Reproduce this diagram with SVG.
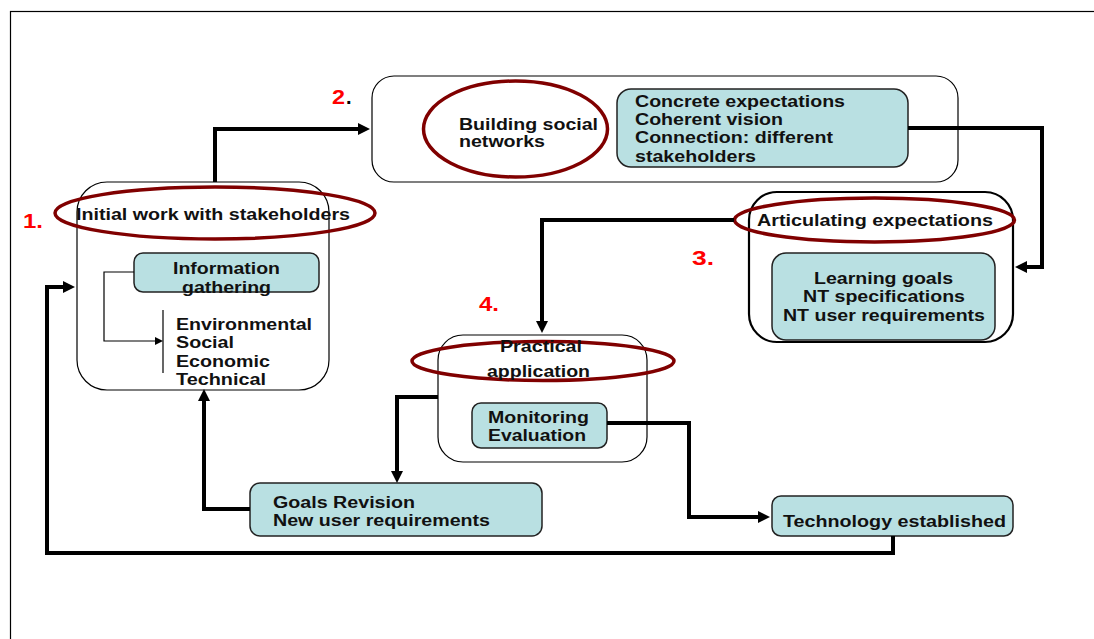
<svg xmlns="http://www.w3.org/2000/svg" width="1094" height="639" viewBox="0 0 1094 639">
<style>
.t{font-family:"Liberation Sans",Arial,sans-serif;font-weight:bold;font-size:16px;fill:#111}
.n{font-family:"Liberation Sans",Arial,sans-serif;font-weight:bold;font-size:20px;fill:#ff0000}
.box{fill:#fff;stroke:#000;stroke-width:1.2}
.box3{fill:#fff;stroke:#000;stroke-width:2.2}
.teal{fill:#b9e0e2;stroke:#222;stroke-width:1.5}
.ell{fill:none;stroke:#800000;stroke-width:3.5}
.con{fill:none;stroke:#000;stroke-width:4;stroke-linejoin:miter}
.thin{fill:none;stroke:#000;stroke-width:1.2}
</style>
<defs>
<marker id="arrow" markerUnits="userSpaceOnUse" viewBox="0 0 12 12" refX="4" refY="6" markerWidth="12" markerHeight="12" orient="auto">
<path d="M0,0 L12,6 L0,12 z" fill="#000"/>
</marker>
<marker id="arrowS" markerUnits="userSpaceOnUse" viewBox="0 0 8 8" refX="0" refY="4" markerWidth="8" markerHeight="8" orient="auto">
<path d="M0,0 L8,4 L0,8 z" fill="#000"/>
</marker>
</defs>
<rect width="1094" height="639" fill="#fff"/>
<rect x="10.5" y="11.5" width="1100" height="700" fill="none" stroke="#000" stroke-width="1.2"/>

<g id="node1">
<rect class="box" x="77" y="182" width="252" height="208" rx="30"/>
<ellipse class="ell" cx="215" cy="213" rx="160" ry="26"/>
<text class="t" x="76" y="220" textLength="274" lengthAdjust="spacingAndGlyphs">Initial work with stakeholders</text>
<text class="n" x="23" y="228" textLength="20" lengthAdjust="spacingAndGlyphs">1.</text>
</g>

<g id="info-gathering">
<rect class="teal" x="134" y="253" width="185" height="39" rx="9"/>
<text class="t" x="173" y="274" textLength="107" lengthAdjust="spacingAndGlyphs">Information</text>
<text class="t" x="182" y="293" textLength="89" lengthAdjust="spacingAndGlyphs">gathering</text>
<path class="thin" d="M134,272 H104 V341 H155" marker-end="url(#arrowS)"/>
</g>

<g id="aspects">
<line class="thin" x1="163" y1="310" x2="163" y2="373"/>
<text class="t" x="176" y="330" textLength="136" lengthAdjust="spacingAndGlyphs">Environmental</text>
<text class="t" x="176" y="348" textLength="58" lengthAdjust="spacingAndGlyphs">Social</text>
<text class="t" x="176" y="367" textLength="94" lengthAdjust="spacingAndGlyphs">Economic</text>
<text class="t" x="176" y="385" textLength="90" lengthAdjust="spacingAndGlyphs">Technical</text>
</g>

<g id="node2">
<rect class="box" x="372" y="76" width="586" height="106" rx="22"/>
<ellipse class="ell" cx="515.5" cy="129" rx="92" ry="48"/>
<text class="t" x="459" y="130" textLength="139" lengthAdjust="spacingAndGlyphs">Building social</text>
<text class="t" x="459" y="147" textLength="86" lengthAdjust="spacingAndGlyphs">networks</text>
<text class="n" x="332" y="104" textLength="13" lengthAdjust="spacingAndGlyphs">2</text>
<text class="n" x="346" y="104" style="fill:#000">.</text>
</g>

<g id="concrete">
<rect class="teal" x="617" y="89" width="291" height="78" rx="14"/>
<text class="t" x="635" y="107" textLength="210" lengthAdjust="spacingAndGlyphs">Concrete expectations</text>
<text class="t" x="635" y="125" textLength="148" lengthAdjust="spacingAndGlyphs">Coherent vision</text>
<text class="t" x="635" y="143" textLength="198" lengthAdjust="spacingAndGlyphs">Connection: different</text>
<text class="t" x="635" y="162" textLength="121" lengthAdjust="spacingAndGlyphs">stakeholders</text>
</g>

<g id="node3">
<rect class="box3" x="749" y="192" width="264" height="150" rx="28"/>
<ellipse class="ell" cx="874.5" cy="220" rx="140" ry="22"/>
<text class="t" x="757" y="226" textLength="236" lengthAdjust="spacingAndGlyphs">Articulating expectations</text>
<text class="n" x="692" y="265" textLength="22" lengthAdjust="spacingAndGlyphs">3.</text>
</g>

<g id="learning">
<rect class="teal" x="772" y="253" width="223" height="87" rx="14"/>
<text class="t" x="814" y="284" textLength="139" lengthAdjust="spacingAndGlyphs">Learning goals</text>
<text class="t" x="803" y="302" textLength="162" lengthAdjust="spacingAndGlyphs">NT specifications</text>
<text class="t" x="783" y="321" textLength="202" lengthAdjust="spacingAndGlyphs">NT user requirements</text>
</g>

<g id="node4">
<rect class="box" x="438" y="335" width="209" height="127" rx="25"/>
<ellipse class="ell" cx="543" cy="361" rx="131" ry="19.5"/>
<text class="t" x="500" y="352" textLength="82" lengthAdjust="spacingAndGlyphs">Practical</text>
<text class="t" x="487" y="377" textLength="103" lengthAdjust="spacingAndGlyphs">application</text>
<text class="n" x="479" y="311" textLength="20" lengthAdjust="spacingAndGlyphs">4.</text>
</g>

<g id="monitoring">
<rect class="teal" x="472" y="403" width="135" height="45" rx="9"/>
<text class="t" x="488" y="423" textLength="101" lengthAdjust="spacingAndGlyphs">Monitoring</text>
<text class="t" x="488" y="441" textLength="98" lengthAdjust="spacingAndGlyphs">Evaluation</text>
</g>

<g id="goals">
<rect class="teal" x="250" y="483" width="292" height="53" rx="10"/>
<text class="t" x="273" y="508" textLength="142" lengthAdjust="spacingAndGlyphs">Goals Revision</text>
<text class="t" x="273" y="526" textLength="217" lengthAdjust="spacingAndGlyphs">New user requirements</text>
</g>

<g id="technology">
<rect class="teal" x="772" y="496" width="241" height="40" rx="9"/>
<text class="t" x="783" y="527" textLength="223" lengthAdjust="spacingAndGlyphs">Technology established</text>
</g>

<g id="connectors">
<path class="con" d="M215,182 V129 H362" marker-end="url(#arrow)"/>
<path class="con" d="M908,128 H1042 V267 H1023" marker-end="url(#arrow)"/>
<path class="con" d="M734,220 H542 V325" marker-end="url(#arrow)"/>
<path class="con" d="M438,397 H397 V475" marker-end="url(#arrow)"/>
<path class="con" d="M250,509 H204 V397" marker-end="url(#arrow)"/>
<path class="con" d="M607,423 H689 V517 H762" marker-end="url(#arrow)"/>
<path class="con" d="M893,536 V553 H47 V287 H67" marker-end="url(#arrow)"/>
</g>
</svg>
